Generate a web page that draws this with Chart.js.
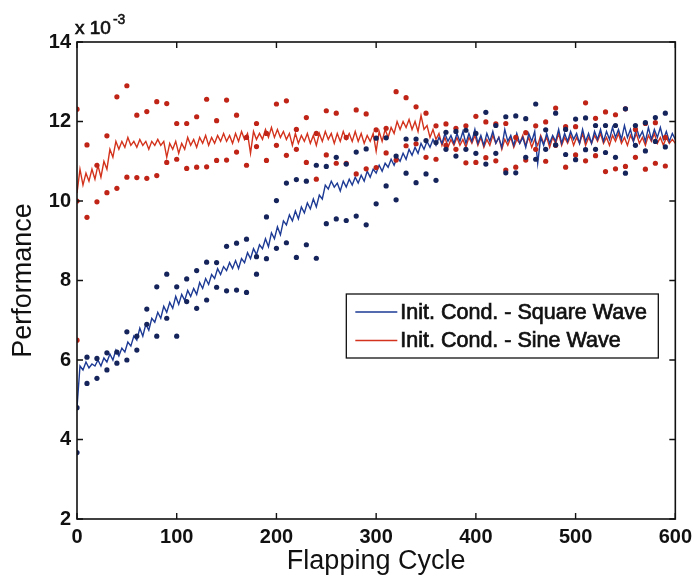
<!DOCTYPE html>
<html>
<head>
<meta charset="utf-8">
<script src="https://cdn.jsdelivr.net/npm/chart.js@4.4.1/dist/chart.umd.min.js"></script>
<style>
html,body{margin:0;padding:0;background:#fff;}
#wrap{width:698px;height:576px;}
</style>
</head>
<body>
<div id="wrap"><canvas id="c" width="698" height="576"></canvas></div>
<script>
// ---- data (values are in units of 1e-3) ----
const xTicks = [0, 100, 200, 300, 400, 500, 600];
const yTicks = [2, 4, 6, 8, 10, 12, 14];
const lineStep = 3; // flapping cycles between successive line samples

const squareLine = [4.8,5.85,5.75,5.95,5.8,5.9,5.85,6.0,5.85,6.05,5.95,6.15,6.0,6.25,6.1,6.3,6.2,6.45,6.35,6.6,6.5,6.8,6.6,6.9,6.75,7.05,6.95,7.2,7.05,7.35,7.2,7.45,7.3,7.6,7.4,7.65,7.5,7.75,7.6,7.8,7.65,7.95,7.8,8.05,7.9,8.15,8.05,8.3,8.15,8.35,8.25,8.45,8.3,8.5,8.3,8.55,8.45,8.7,8.55,8.8,8.65,8.9,8.8,9.05,8.85,9.2,9.05,9.35,9.15,9.5,9.4,9.65,9.5,9.75,9.55,9.85,9.7,9.95,9.8,10.05,9.85,10.15,10.05,10.4,10.3,10.5,10.35,10.45,10.25,10.5,10.35,10.55,10.4,10.6,10.45,10.65,10.5,10.75,10.6,10.8,10.7,10.9,10.75,10.95,10.85,11.05,10.9,11.1,11.0,11.2,11.05,11.3,11.15,11.35,11.2,11.45,11.3,11.5,11.35,11.55,11.4,11.6,11.45,11.7,11.5,11.65,11.45,11.7,11.5,11.75,11.45,11.7,11.5,11.8,11.45,11.65,11.4,11.7,11.5,11.75,11.45,11.6,11.35,11.8,11.5,11.65,11.4,11.7,11.45,11.6,11.35,11.7,11.5,11.75,10.95,11.6,11.4,11.7,11.45,11.65,11.5,11.8,11.45,11.7,11.5,11.75,11.55,11.7,11.45,11.8,11.5,11.7,11.45,11.75,11.55,11.8,11.5,11.75,11.55,11.85,11.6,11.8,11.55,11.9,11.6,11.8,11.5,11.85,11.6,11.75,11.5,11.85,11.55,11.8,11.6,11.85,11.55,11.75,11.5,11.7,11.55];

const sineLine = [10.2,10.8,10.4,10.7,10.5,10.8,10.55,10.9,10.6,11.0,10.8,11.3,11.1,11.5,11.3,11.5,11.35,11.6,11.4,11.5,11.35,11.55,11.4,11.5,11.3,11.5,11.4,11.55,11.4,11.5,11.1,11.45,11.3,11.5,11.2,11.45,11.3,11.6,11.4,11.55,11.35,11.6,11.45,11.65,11.4,11.6,11.45,11.65,11.5,11.7,11.5,11.65,11.45,11.7,11.5,11.75,11.55,11.7,11.2,11.75,11.55,11.7,11.55,11.8,11.6,11.85,11.6,11.8,11.6,11.75,11.55,11.7,11.4,11.7,11.45,11.65,11.5,11.7,11.45,11.65,11.4,11.7,11.5,11.75,11.55,11.7,11.45,11.7,11.5,11.75,11.55,11.7,11.5,11.75,11.5,11.7,11.45,11.65,11.5,11.7,11.25,11.75,11.5,11.8,11.6,11.85,11.7,12.0,11.8,12.0,11.85,12.05,11.8,12.0,11.75,12.15,11.8,11.9,11.6,11.8,11.55,11.7,11.4,11.6,11.35,11.55,11.4,11.6,11.4,11.55,11.35,11.6,11.45,11.65,11.4,11.6,11.35,11.55,11.4,11.65,11.45,11.6,11.3,11.55,11.4,11.6,11.35,11.55,11.45,11.65,11.4,11.6,11.35,11.55,11.4,11.65,11.45,11.6,11.35,11.6,11.45,11.7,11.4,11.6,11.45,11.65,11.4,11.6,11.45,11.7,11.4,11.6,11.45,11.65,11.5,11.7,11.45,11.6,11.4,11.65,11.5,11.7,11.45,11.6,11.4,11.65,11.5,11.7,11.45,11.6,11.4,11.65,11.5,11.7,11.45,11.6,11.4,11.6,11.45,11.55,11.45];

const sineDotX = [0,0,0,10,10,20,20,30,30,40,40,50,50,60,60,70,70,80,80,90,90,100,100,110,110,120,120,130,130,140,140,150,150,160,160,170,170,180,180,190,190,200,200,210,210,220,220,230,230,240,240,250,250,260,260,270,270,280,280,290,290,300,300,310,310,320,320,330,330,340,340,350,350,360,360,370,370,380,380,390,390,400,400,410,410,420,420,430,430,440,440,450,450,460,460,470,470,480,480,490,490,500,500,510,510,520,520,530,530,540,540,550,550,560,560,570,570,580,580,590,590];
const sineDotY = [12.31,10.0,6.5,11.41,9.59,10.9,9.98,11.64,10.21,12.62,10.32,12.90,10.60,12.16,10.59,12.25,10.57,12.50,10.64,12.45,10.97,11.95,11.05,11.95,10.82,12.12,10.85,12.56,10.86,12.02,11.02,12.54,11.03,12.16,11.23,11.6,10.90,11.95,11.37,11.7,11.02,12.44,11.4,12.52,11.15,11.8,11.3,12.10,10.97,11.7,10.55,12.27,11.16,12.21,10.95,11.6,10.95,12.29,10.68,12.19,10.81,11.79,10.84,11.83,11.21,12.75,11.03,12.60,11.39,12.37,11.44,12.21,11.10,11.89,11.05,11.94,11.4,11.83,11.3,11.89,10.96,12.13,10.97,11.99,11.09,11.94,11.01,11.95,10.78,11.60,10.85,11.72,11.03,11.89,11.3,11.99,11.0,12.34,11.4,11.87,10.85,11.87,11.16,12.47,11.01,12.08,11.14,12.24,10.74,12.17,10.81,12.32,10.87,11.8,11.10,11.95,10.80,11.97,10.95,11.6,10.88];

const squareDotX = [0,0,10,10,20,20,30,30,40,40,50,50,60,60,70,70,80,80,90,90,100,100,110,110,120,120,130,130,140,140,150,150,160,160,170,170,180,180,190,190,200,200,210,210,220,220,230,230,240,240,250,250,260,260,270,270,280,280,290,290,300,300,310,310,320,320,330,330,340,340,350,350,360,360,370,370,380,380,390,390,400,400,410,410,420,420,430,430,440,440,450,450,460,460,470,470,480,480,490,490,500,500,510,510,520,520,530,530,540,540,550,550,560,560,570,570,580,580,590,590];
const squareDotY = [4.80,3.67,6.07,5.41,6.04,5.54,6.18,5.75,6.2,5.92,6.71,6.0,6.6,6.25,7.28,6.9,7.84,6.60,8.16,7.05,7.84,6.60,8.04,7.47,8.25,7.30,8.46,7.51,8.45,7.83,8.86,7.74,8.94,7.76,9.04,7.70,8.6,8.16,9.60,8.55,10.01,8.81,10.45,8.95,10.54,8.58,10.50,8.90,10.9,8.56,10.87,9.43,11.10,9.55,10.93,9.51,11.23,9.62,11.31,9.40,11.58,9.93,11.59,10.38,11.13,10.03,11.56,10.70,11.56,10.46,11.52,10.68,11.47,10.52,11.73,11.3,11.75,11.13,11.78,11.3,11.70,11.2,12.23,10.93,11.9,11.2,12.12,10.71,12.14,10.71,12.07,11.10,12.44,11.05,11.79,11.3,12.21,11.41,11.8,11.17,12.06,11.04,12.09,11.29,11.9,11.3,11.9,11.22,11.9,11.10,12.32,10.70,11.9,11.4,11.97,11.26,12.10,11.5,12.21,11.36];

const seriesLabels = ['Init. Cond. - Square Wave', 'Init. Cond. - Sine Wave'];

// ---- build chart data ----
const toXY = (arr) => arr.map((v, i) => ({x: i * lineStep, y: v}));
const pairs = (xs, ys) => xs.map((x, i) => ({x: x, y: ys[i]}));

const BLUE_LINE = '#1d3a94';
const RED_LINE = '#d3321c';
const BLUE_DOT = '#16245c';
const RED_DOT = '#bf2417';
const FONT = '"Liberation Sans", Arial, Helvetica, sans-serif';

function heavyText(ctx, t, x, y, w) {
  ctx.fillText(t, x, y);
  ctx.lineWidth = w;
  ctx.strokeStyle = ctx.fillStyle;
  ctx.strokeText(t, x, y);
}

const framePlugin = {
  id: 'frame',
  afterDraw(chart) {
    const ctx = chart.ctx, a = chart.chartArea;
    const xs = chart.scales.x, ys = chart.scales.y;
    ctx.save();
    ctx.strokeStyle = '#111';
    ctx.lineWidth = 1.6;
    ctx.strokeRect(a.left, a.top, a.right - a.left, a.bottom - a.top);
    ctx.lineWidth = 1.4;
    const tl = 6;
    ctx.beginPath();
    xTicks.forEach(v => {
      const px = xs.getPixelForValue(v);
      ctx.moveTo(px, a.bottom); ctx.lineTo(px, a.bottom - tl);
      ctx.moveTo(px, a.top); ctx.lineTo(px, a.top + tl);
    });
    yTicks.forEach(v => {
      const py = ys.getPixelForValue(v);
      ctx.moveTo(a.left, py); ctx.lineTo(a.left + tl, py);
      ctx.moveTo(a.right, py); ctx.lineTo(a.right - tl, py);
    });
    ctx.stroke();

    // exponent label
    ctx.fillStyle = '#111';
    ctx.textBaseline = 'alphabetic';
    ctx.textAlign = 'left';
    ctx.font = '19px ' + FONT;
    heavyText(ctx, 'x 10', a.left - 2, a.top - 8, 0.7);
    const w = ctx.measureText('x 10').width;
    ctx.font = '14px ' + FONT;
    heavyText(ctx, '-3', a.left - 1 + w + 1, a.top - 18, 0.5);

    // legend
    const boxR = a.right - 17, boxW = 312, boxL = boxR - boxW;
    const boxT = a.top + 252, boxH = 64;
    ctx.fillStyle = '#fff';
    ctx.fillRect(boxL, boxT, boxW, boxH);
    ctx.strokeStyle = '#111';
    ctx.lineWidth = 1.3;
    ctx.strokeRect(boxL, boxT, boxW, boxH);
    const rows = [{t: seriesLabels[0], c: BLUE_LINE}, {t: seriesLabels[1], c: RED_LINE}];
    ctx.font = '21.5px ' + FONT;
    ctx.textBaseline = 'middle';
    rows.forEach((r, i) => {
      const y = boxT + 18 + i * 28.5;
      ctx.strokeStyle = r.c; ctx.lineWidth = 1.6;
      ctx.beginPath(); ctx.moveTo(boxL + 9, y); ctx.lineTo(boxL + 51, y); ctx.stroke();
      ctx.fillStyle = '#111';
      heavyText(ctx, r.t, boxL + 54, y + 1, 0.7);
    });
    ctx.restore();
  }
};

new Chart(document.getElementById('c'), {
  type: 'scatter',
  data: {
    datasets: [
      {label: seriesLabels[0] + ' samples', data: pairs(squareDotX, squareDotY), showLine: false,
       pointRadius: 2.6, pointBackgroundColor: BLUE_DOT, pointBorderWidth: 0, pointBorderColor: BLUE_DOT},
      {label: seriesLabels[1] + ' samples', data: pairs(sineDotX, sineDotY), showLine: false,
       pointRadius: 2.6, pointBackgroundColor: RED_DOT, pointBorderWidth: 0, pointBorderColor: RED_DOT},
      {label: seriesLabels[0], data: toXY(squareLine), showLine: true, borderColor: BLUE_LINE,
       borderWidth: 1.4, pointRadius: 0, tension: 0},
      {label: seriesLabels[1], data: toXY(sineLine), showLine: true, borderColor: RED_LINE,
       borderWidth: 1.4, pointRadius: 0, tension: 0}
    ]
  },
  options: {
    responsive: false,
    animation: false,
    events: [],
    layout: {padding: {left: 0, right: 21, top: 42, bottom: 0}},
    plugins: {legend: {display: false}, tooltip: {enabled: false}},
    scales: {
      x: {
        type: 'linear', min: 0, max: 600,
        afterFit(s) { s.height = 57; },
        afterBuildTicks(s) { s.ticks = xTicks.map(v => ({value: v})); },
        grid: {display: false, drawTicks: false},
        border: {display: false},
        ticks: {color: '#111', padding: 6, font: {family: FONT, size: 20, weight: 'bold'}, maxRotation: 0},
        title: {display: true, text: 'Flapping Cycle', color: '#111',
                font: {family: FONT, size: 27, lineHeight: 1}, padding: {top: 0, bottom: 1}}
      },
      y: {
        type: 'linear', min: 2, max: 14,
        afterFit(s) { s.width = 77; },
        afterBuildTicks(s) { s.ticks = yTicks.map(v => ({value: v})); },
        grid: {display: false, drawTicks: false},
        border: {display: false},
        ticks: {color: '#111', padding: 6, font: {family: FONT, size: 20, weight: 'bold'}},
        title: {display: true, text: 'Performance', color: '#111',
                font: {family: FONT, size: 27, lineHeight: 1}, padding: {top: 10, bottom: 0}}
      }
    }
  },
  plugins: [framePlugin]
});
</script>
</body>
</html>
